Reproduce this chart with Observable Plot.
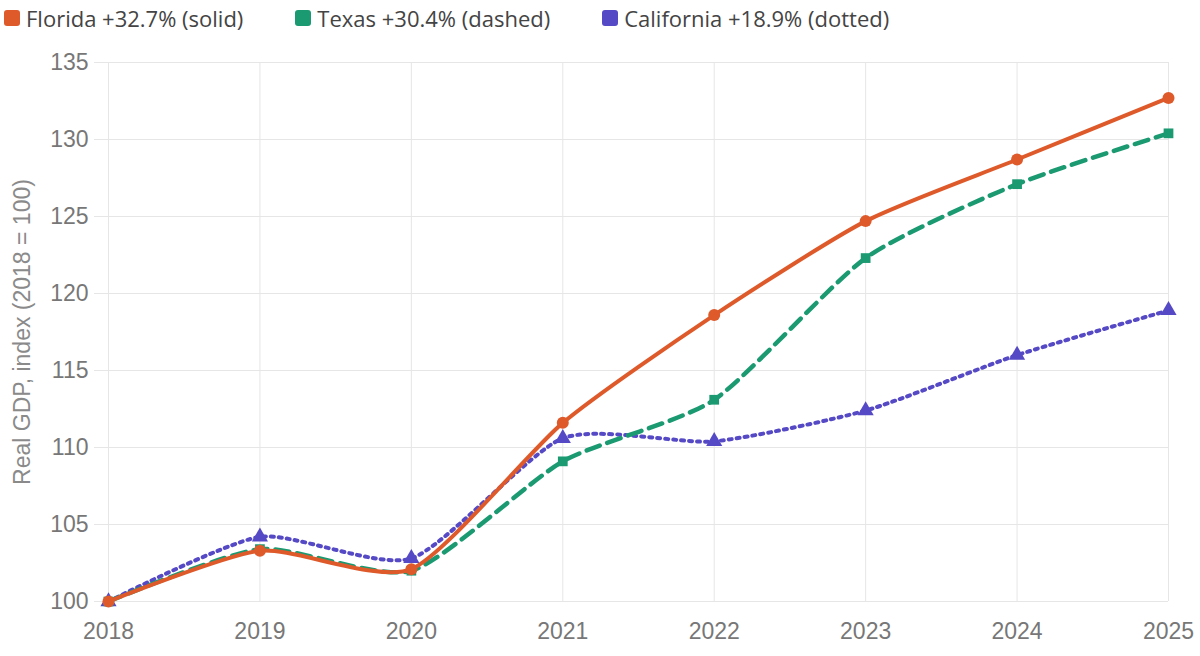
<!DOCTYPE html>
<html>
<head>
<meta charset="utf-8">
<script src="https://cdn.jsdelivr.net/npm/d3@7"></script>
<script src="https://cdn.jsdelivr.net/npm/@observablehq/plot@0.6"></script>
<style>
  body { margin: 0; background: #fff; font-family: "Open Sans", "Noto Sans", sans-serif; }
  #legend { display: flex; height: 35px; align-items: center; font-size: 22px; color: #444; padding-left: 4px; }
  .item { display: flex; align-items: center; margin-right: 52px; }
  .sw { width: 16px; height: 16px; border-radius: 3px; margin-right: 6px; }
</style>
</head>
<body>
<div id="legend"></div>
<div id="chart"></div>
<script>
const years = [2018, 2019, 2020, 2021, 2022, 2023, 2024, 2025];
const florida = [100, 103.3, 102.1, 111.6, 118.6, 124.7, 128.7, 132.7];
const texas = [100, 103.4, 102.0, 109.1, 113.1, 122.3, 127.1, 130.4];
const california = [100, 104.2, 102.8, 110.6, 110.4, 112.4, 116.0, 118.9];
const legendLabels = ["Florida +32.7% (solid)", "Texas +30.4% (dashed)", "California +18.9% (dotted)"];
const colors = ["#de5a2b", "#1b9a72", "#5549c6"];
const yTicks = [100, 105, 110, 115, 120, 125, 130, 135];

const legend = document.getElementById("legend");
legendLabels.forEach((t, i) => {
  const it = document.createElement("div");
  it.className = "item";
  it.innerHTML = `<div class="sw" style="background:${colors[i]}"></div><span>${t}</span>`;
  legend.appendChild(it);
});

const mk = (vals) => years.map((y, i) => ({year: y, value: vals[i]}));
const fl = mk(florida), tx = mk(texas), ca = mk(california);
const curve = d3.curveCardinal.tension(0.35);
const axisFont = "'Liberation Sans', Arial, sans-serif";

const chart = Plot.plot({
  width: 1200,
  height: 621,
  marginLeft: 108,
  marginRight: 32,
  marginTop: 27,
  marginBottom: 55,
  style: {fontFamily: axisFont, fontSize: "23px", color: "#666", background: "#fff"},
  x: {domain: [2018, 2025], ticks: years, tickFormat: d => String(d), label: null},
  y: {domain: [100, 135], ticks: yTicks, label: null},
  marks: [
    Plot.gridX(years, {stroke: "#e6e6e6", strokeOpacity: 1, strokeWidth: 1}),
    Plot.gridY(yTicks, {stroke: "#e6e6e6", strokeOpacity: 1, strokeWidth: 1}),
    Plot.axisX({ticks: years, tickFormat: d => String(d), tickSize: 0, tickPadding: 21, fontSize: 23, fill: "#777", label: null}),
    Plot.axisY({ticks: yTicks, tickSize: 14, tickPadding: 6, stroke: "#e6e6e6", fontSize: 23, fill: "#777", label: null}),
    Plot.text(["Real GDP, index (2018 = 100)"], {frameAnchor: "left", textAnchor: "middle", dx: -86, rotate: -90, fontSize: 23, fill: "#8a8a8a"}),
    Plot.line(ca, {x: "year", y: "value", stroke: colors[2], strokeWidth: 4, strokeDasharray: "3,5", curve}),
    Plot.dot(ca, {x: "year", y: "value", fill: colors[2], symbol: "triangle", r: 6}),
    Plot.line(tx, {x: "year", y: "value", stroke: colors[1], strokeWidth: 4.5, strokeDasharray: "14,8", curve}),
    Plot.dot(tx, {x: "year", y: "value", fill: colors[1], symbol: "square", r: 5.5}),
    Plot.line(fl, {x: "year", y: "value", stroke: colors[0], strokeWidth: 4, curve}),
    Plot.dot(fl, {x: "year", y: "value", fill: colors[0], symbol: "circle", r: 6})
  ]
});
document.getElementById("chart").appendChild(chart);
</script>
</body>
</html>
